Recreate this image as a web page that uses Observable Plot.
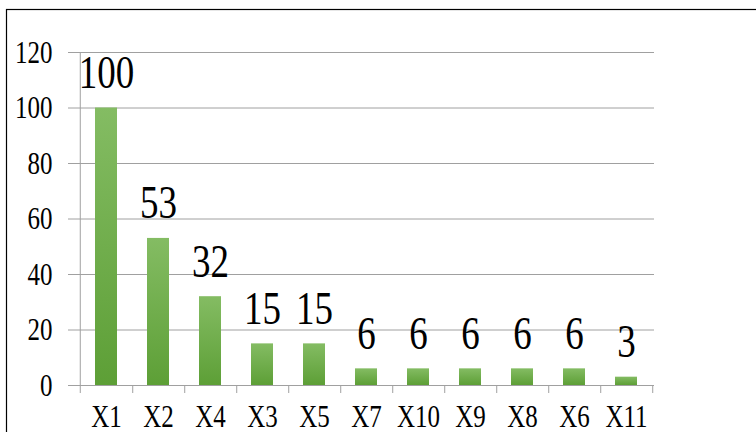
<!DOCTYPE html>
<html>
<head>
<meta charset="utf-8">
<script src="https://cdn.jsdelivr.net/npm/d3@7"></script>
<script src="https://cdn.jsdelivr.net/npm/@observablehq/plot@0.6"></script>
<style>
  html, body { margin: 0; padding: 0; background: #fff; }
  #chart { width: 756px; height: 432px; overflow: hidden; }
  #chart svg text { font-family: "Liberation Serif", "Times New Roman", serif; }
</style>
</head>
<body>
<div id="chart"></div>
<script>
const categories = ["X1", "X2", "X4", "X3", "X5", "X7", "X10", "X9", "X8", "X6", "X11"];
const values = [100, 53, 32, 15, 15, 6, 6, 6, 6, 6, 3];
const yTicks = [0, 20, 40, 60, 80, 100, 120];

const data = categories.map((c, i) => ({cat: c, value: values[i]}));

const W = 756, H = 432;
const mL = 77, mR = 102, mT = 52, mB = 47;
const step = (W - mL - mR) / categories.length;
const grid = "#a0a0a0";
const serif = "Liberation Serif";

const chart = Plot.plot({
  width: W,
  height: H,
  marginLeft: mL,
  marginRight: mR,
  marginTop: mT,
  marginBottom: mB,
  style: {background: "#fff", color: "#000"},
  x: {type: "band", domain: categories, paddingInner: 0.58, paddingOuter: 0.29, axis: null},
  y: {domain: [0, 120], axis: null},
  marks: [
    Plot.ruleY(yTicks, {y: d => d, stroke: grid, insetLeft: -9}),
    Plot.barY(data, {x: "cat", y: "value", fill: "url(#barGrad)"}),
    Plot.ruleX([categories[0]], {x: d => d, dx: -step / 2, y1: 120, y2: 0, insetBottom: -8, stroke: grid}),
    Plot.ruleX(categories, {x: d => d, dx: step / 2, y1: 0, y2: 0, insetBottom: -8, stroke: grid}),
    Plot.text(data, {x: "cat", y: "value", text: d => String(d.value), lineAnchor: "bottom", dy: -20, fontSize: 37, fontFamily: serif, fill: "#000"}),
    Plot.text(categories, {x: d => d, frameAnchor: "bottom", text: d => d, lineAnchor: "bottom", dy: 41, fontSize: 25, fontFamily: serif, fill: "#000"}),
    Plot.text(yTicks, {y: d => d, frameAnchor: "left", text: d => String(d), textAnchor: "end", lineAnchor: "bottom", dx: -25, dy: 10, fontSize: 25, fontFamily: serif, fill: "#000"})
  ]
});

// gradient for the bars
const svg = d3.select(chart);
const defs = svg.insert("defs", ":first-child");
const lg = defs.append("linearGradient").attr("id", "barGrad")
  .attr("x1", 0).attr("y1", 0).attr("x2", 0).attr("y2", 1);
lg.append("stop").attr("offset", "0%").attr("stop-color", "#84bc63");
lg.append("stop").attr("offset", "100%").attr("stop-color", "#5d9f36");

// the chart's text is drawn taller than wide
chart.querySelectorAll("text").forEach(t => {
  const tr = t.getAttribute("transform") || "";
  const x = +t.getAttribute("x") || 0, y = +t.getAttribute("y") || 0;
  t.setAttribute("transform", `${tr} translate(${x},${y}) scale(1,1.25)`);
  t.setAttribute("x", 0);
  t.setAttribute("y", 0);
});

// outer chart border
svg.append("rect")
  .attr("x", 6.5).attr("y", 9.5)
  .attr("width", W).attr("height", H)
  .attr("fill", "none").attr("stroke", "#000").attr("stroke-width", 1.2);

document.getElementById("chart").appendChild(chart);
</script>
</body>
</html>
